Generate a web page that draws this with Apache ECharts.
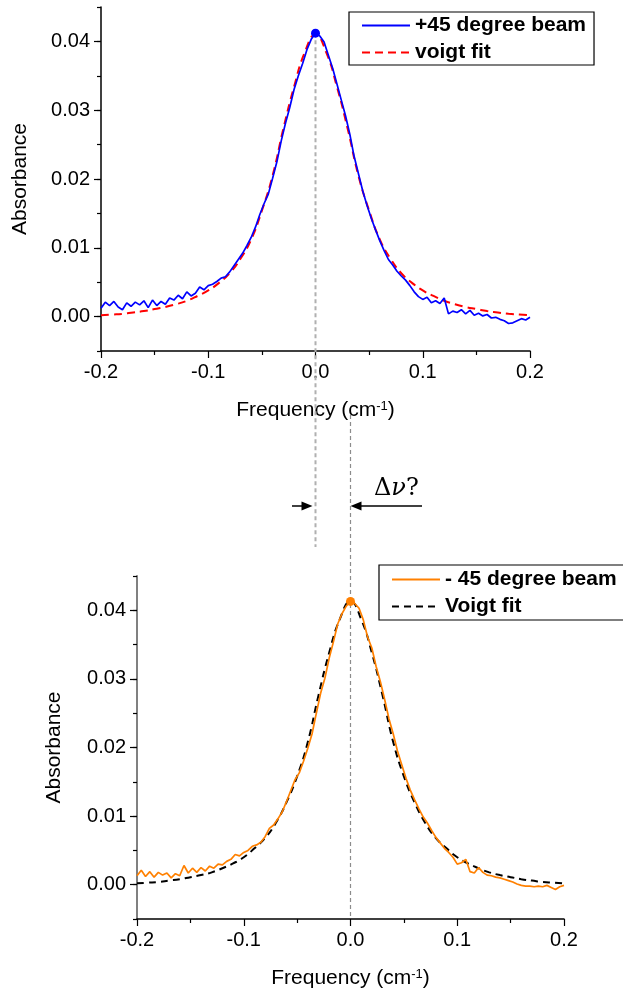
<!DOCTYPE html>
<html><head><meta charset="utf-8">
<script src="https://cdn.jsdelivr.net/npm/echarts@6/dist/echarts.min.js"></script>
<style>html,body{margin:0;padding:0;background:#fff}#c{width:623px;height:991px}</style>
</head><body><div id="c"></div>
<script>
// ---- data ----
const freq = [
 -0.2,-0.196,-0.192,-0.188,-0.184,-0.18,-0.176,-0.172,-0.168,-0.164,
 -0.16,-0.156,-0.152,-0.148,-0.144,-0.14,-0.136,-0.132,-0.128,-0.124,
 -0.12,-0.116,-0.112,-0.108,-0.104,-0.1,-0.096,-0.092,-0.088,-0.084,
 -0.08,-0.076,-0.072,-0.068,-0.064,-0.06,-0.056,-0.052,-0.048,-0.044,
 -0.04,-0.036,-0.032,-0.028,-0.024,-0.02,-0.016,-0.012,-0.008,-0.004,
 0,
 0.004,0.008,0.012,0.016,0.02,0.024,0.028,0.032,0.036,0.04,
 0.044,0.048,0.052,0.056,0.06,0.064,0.068,0.072,0.076,0.08,
 0.084,0.088,0.092,0.096,0.1,0.104,0.108,0.112,0.116,0.12,
 0.124,0.128,0.132,0.136,0.14,0.144,0.148,0.152,0.156,0.16,
 0.164,0.168,0.172,0.176,0.18,0.184,0.188,0.192,0.196,0.2];
const plusBeam = [
 0.0012,0.0021,0.0016,0.0022,0.0014,0.0010,0.0020,0.0015,0.0021,0.0017,
 0.0023,0.0013,0.0024,0.0016,0.0022,0.0018,0.0027,0.0024,0.0031,0.0026,
 0.0036,0.0030,0.0034,0.0043,0.0039,0.0045,0.0047,0.0051,0.0056,0.0058,
 0.0065,0.0074,0.0083,0.0092,0.0103,0.0115,0.0130,0.0148,0.0164,0.0178,
 0.0201,0.0225,0.0255,0.0281,0.0304,0.0330,0.0350,0.0368,0.0388,0.0403,
 0.0412,
 0.0408,0.0399,0.0380,0.0361,0.0338,0.0315,0.0292,0.0265,0.0233,0.0208,
 0.0183,0.0162,0.0143,0.0126,0.0110,0.0096,0.0083,0.0075,0.0066,0.0059,
 0.0053,0.0045,0.0036,0.0029,0.0025,0.0028,0.0020,0.0023,0.0019,0.0027,
 0.0004,0.0008,0.0006,0.0010,0.0004,0.0009,0.0002,0.0005,0.0001,0.0003,
 -0.0002,-0.0001,-0.0004,-0.0006,-0.0010,-0.0009,-0.0006,-0.0003,-0.0005,-0.0001];
const minusBeam = [
 0.0013,0.0021,0.0012,0.0019,0.0011,0.0018,0.0014,0.0017,0.0010,0.0016,
 0.0013,0.0028,0.0017,0.0024,0.0018,0.0025,0.0020,0.0027,0.0024,0.0030,
 0.0029,0.0034,0.0037,0.0044,0.0042,0.0047,0.0050,0.0056,0.0058,0.0062,
 0.0070,0.0082,0.0087,0.0096,0.0106,0.0121,0.0137,0.0153,0.0163,0.0180,
 0.0199,0.0220,0.0250,0.0279,0.0301,0.0330,0.0354,0.0380,0.0395,0.0406,
 0.0413,
 0.0410,0.0403,0.0386,0.0361,0.0345,0.0318,0.0296,0.0270,0.0242,0.0220,
 0.0195,0.0175,0.0155,0.0138,0.0124,0.0111,0.0099,0.0090,0.0079,0.0069,
 0.0061,0.0053,0.0047,0.0040,0.0030,0.0032,0.0037,0.0019,0.0017,0.0025,
 0.0018,0.0014,0.0013,0.0011,0.0010,0.0008,0.0006,0.0004,0.0001,-0.0001,
 -0.0002,-0.0002,-0.0003,-0.0002,-0.0003,-0.0001,-0.0004,-0.0007,-0.0003,-0.0001];
const fitFreq = [
 -0.2,-0.19,-0.18,-0.17,-0.16,-0.15,-0.14,-0.13,-0.12,-0.11,
 -0.1,-0.09,-0.08,-0.07,-0.06,-0.05,-0.04,-0.03,-0.02,-0.01,
 0,
 0.01,0.02,0.03,0.04,0.05,0.06,0.07,0.08,0.09,0.1,
 0.11,0.12,0.13,0.14,0.15,0.16,0.17,0.18,0.19,0.2];
const plusFit = [
 0.0002,0.0003,0.0004,0.0006,0.0008,0.0011,0.0014,0.0018,0.0023,0.0030,
 0.0038,0.0049,0.0063,0.0084,0.0112,0.0154,0.0205,0.0273,0.0334,0.0384,
 0.0410,
 0.0384,0.0334,0.0273,0.0205,0.0154,0.0112,0.0084,0.0063,0.0049,0.0038,
 0.0030,0.0023,0.0018,0.0014,0.0011,0.0008,0.0006,0.0004,0.0003,0.0002];
const minusFit = [
 0.0002,0.0003,0.0004,0.0006,0.0008,0.0011,0.0014,0.0018,0.0024,0.0031,
 0.0040,0.0053,0.0068,0.0090,0.0120,0.0158,0.0208,0.0276,0.0338,0.0387,
 0.0413,
 0.0387,0.0338,0.0276,0.0208,0.0158,0.0120,0.0090,0.0068,0.0053,0.0040,
 0.0031,0.0024,0.0018,0.0014,0.0011,0.0008,0.0006,0.0004,0.0003,0.0002];
const yTicks = [0, 0.01, 0.02, 0.03, 0.04];
const seriesNames = ['+45 degree beam', 'voigt fit', '- 45 degree beam', 'Voigt fit'];

// ---- chart ----
const FONT = "'Liberation Sans', Arial, sans-serif";
function pairs(xs, ys) { return xs.map((x, i) => [x, ys[i]]); }

const chart = echarts.init(document.getElementById('c'), null, {renderer: 'canvas'});

function xAxisFor(g) {
  return {
    gridIndex: g, type: 'value', min: -0.2, max: 0.2, interval: 0.1,
    axisLine: {show: true, onZero: false, lineStyle: {color: '#000', width: 1.5}},
    axisTick: {show: true, length: 7, lineStyle: {color: '#000', width: 1.2}},
    minorTick: {show: true, splitNumber: 2, length: 4, lineStyle: {color: '#000', width: 1.2}},
    splitLine: {show: false}, minorSplitLine: {show: false},
    axisLabel: {fontSize: 20, fontFamily: FONT, color: '#000', margin: 11,
      formatter: v => v.toFixed(1)},
    name: 'Frequency (cm{sup|-1})', nameLocation: 'middle', nameGap: 49,
    nameTextStyle: {fontSize: 21, fontFamily: FONT, color: '#000',
      rich: {sup: {fontSize: 13, fontFamily: FONT, color: '#000', verticalAlign: 'top'}}}
  };
}
function yAxesFor(g, lineColor, lineWidth, nameGap) {
  return [{
    gridIndex: g, type: 'value', position: 'left', offset: 0,
    min: -0.005, max: 0.045, interval: 0.005,
    axisLine: {show: true, onZero: false, lineStyle: {color: lineColor, width: lineWidth}},
    axisTick: {show: true, length: 4, lineStyle: {color: '#000', width: 1.2}},
    axisLabel: {show: false}, splitLine: {show: false}
  }, {
    gridIndex: g, type: 'value', position: 'left', offset: 0,
    min: -0.005, max: 0.045, interval: 0.005,
    axisLine: {show: false, onZero: false},
    axisTick: {show: true, customValues: yTicks, length: 7, lineStyle: {color: '#000', width: 1.2}},
    axisLabel: {show: true, customValues: yTicks, fontSize: 20, fontFamily: FONT, color: '#000',
      margin: 11, formatter: v => v.toFixed(2)},
    splitLine: {show: false},
    name: 'Absorbance', nameLocation: 'middle', nameGap: nameGap,
    nameTextStyle: {fontSize: 21, fontFamily: FONT, color: '#000'}
  }];
}
function legendFor(left, top, names, pad) {
  return {
    orient: 'vertical', left: left, top: top, data: names,
    itemWidth: 48, itemHeight: 14, itemGap: 6, padding: pad,
    borderColor: '#000', borderWidth: 1.2, backgroundColor: '#fff',
    selectedMode: false,
    itemStyle: {opacity: 0, borderWidth: 0},
    textStyle: {fontSize: 21, fontWeight: 'bold', fontFamily: FONT, color: '#000'}
  };
}

const option = {
  animation: false,
  backgroundColor: '#fff',
  grid: [
    {left: 101, top: 7, width: 429, height: 344},
    {left: 137, top: 576, width: 427, height: 343}
  ],
  xAxis: [xAxisFor(0), xAxisFor(1)],
  yAxis: [].concat(yAxesFor(0, '#000', 1.5, 70), yAxesFor(1, '#808080', 2, 72)),
  legend: [
    legendFor(349, 12, [seriesNames[0], seriesNames[1]], [3, 8, 2, 12]),
    legendFor(379, 565, [seriesNames[2], seriesNames[3]], [4, 8, 3, 12])
  ],
  series: [
    {name: seriesNames[0], type: 'line', xAxisIndex: 0, yAxisIndex: 0,
     data: pairs(freq, plusBeam), symbol: 'none', z: 4,
     lineStyle: {color: '#0000ff', width: 1.7}, itemStyle: {color: '#0000ff'},
     markPoint: {symbol: 'circle', symbolSize: 9, data: [{type: 'max'}],
       label: {show: false}, itemStyle: {color: '#0000ff'}}},
    {name: seriesNames[1], type: 'line', xAxisIndex: 0, yAxisIndex: 0,
     data: pairs(fitFreq, plusFit), symbol: 'none', smooth: true, z: 3,
     lineStyle: {color: '#ff0000', width: 2, type: [8, 5]}, itemStyle: {color: '#ff0000'}},
    {name: seriesNames[2], type: 'line', xAxisIndex: 1, yAxisIndex: 2,
     data: pairs(freq, minusBeam), symbol: 'none', z: 4,
     lineStyle: {color: '#ff8000', width: 1.7}, itemStyle: {color: '#ff8000'},
     markPoint: {symbol: 'circle', symbolSize: 9, data: [{type: 'max'}],
       label: {show: false}, itemStyle: {color: '#ff8000'}}},
    {name: seriesNames[3], type: 'line', xAxisIndex: 1, yAxisIndex: 2,
     data: pairs(fitFreq, minusFit), symbol: 'none', smooth: true, z: 3,
     lineStyle: {color: '#000', width: 2, type: [7, 5]}, itemStyle: {color: '#000'}}
  ]
};
chart.setOption(option);

// ---- annotations (positions derived from the axes) ----
const pk0 = chart.convertToPixel({seriesIndex: 0}, [0, Math.max.apply(null, plusBeam)]);
const bot1 = chart.convertToPixel({seriesIndex: 2}, [0, -0.005]);
const x0 = pk0[0], x1 = bot1[0];
const arrowY = 506;
chart.setOption({
  graphic: [
    {type: 'line', z: 1, shape: {x1: x0, y1: pk0[1], x2: x0, y2: 547},
     style: {stroke: '#b0b0b0', lineWidth: 2, lineDash: [4, 3]}},
    {type: 'line', z: 1, shape: {x1: x1, y1: 415, x2: x1, y2: bot1[1]},
     style: {stroke: '#8c8c8c', lineWidth: 1.2, lineDash: [4, 3]}},
    {type: 'line', shape: {x1: 292, y1: arrowY, x2: x0 - 10, y2: arrowY},
     style: {stroke: '#000', lineWidth: 1.5}},
    {type: 'polygon', shape: {points: [[x0 - 3, arrowY], [x0 - 14, arrowY - 4.5], [x0 - 14, arrowY + 4.5]]},
     style: {fill: '#000'}},
    {type: 'line', shape: {x1: x1 + 8, y1: arrowY, x2: 422, y2: arrowY},
     style: {stroke: '#000', lineWidth: 1.5}},
    {type: 'polygon', shape: {points: [[x1, arrowY], [x1 + 11, arrowY - 4.5], [x1 + 11, arrowY + 4.5]]},
     style: {fill: '#000'}},
    {type: 'text', left: 374, top: 477,
     style: {text: '{a|Δ}{b|ν}{a|?}', fill: '#000',
       rich: {
         a: {fontSize: 24, fontFamily: "'DejaVu Serif', serif", fill: '#000'},
         b: {fontSize: 24, fontFamily: "'DejaVu Serif', serif", fontStyle: 'italic', fill: '#000'}
       }}}
  ]
});
</script>
</body></html>
